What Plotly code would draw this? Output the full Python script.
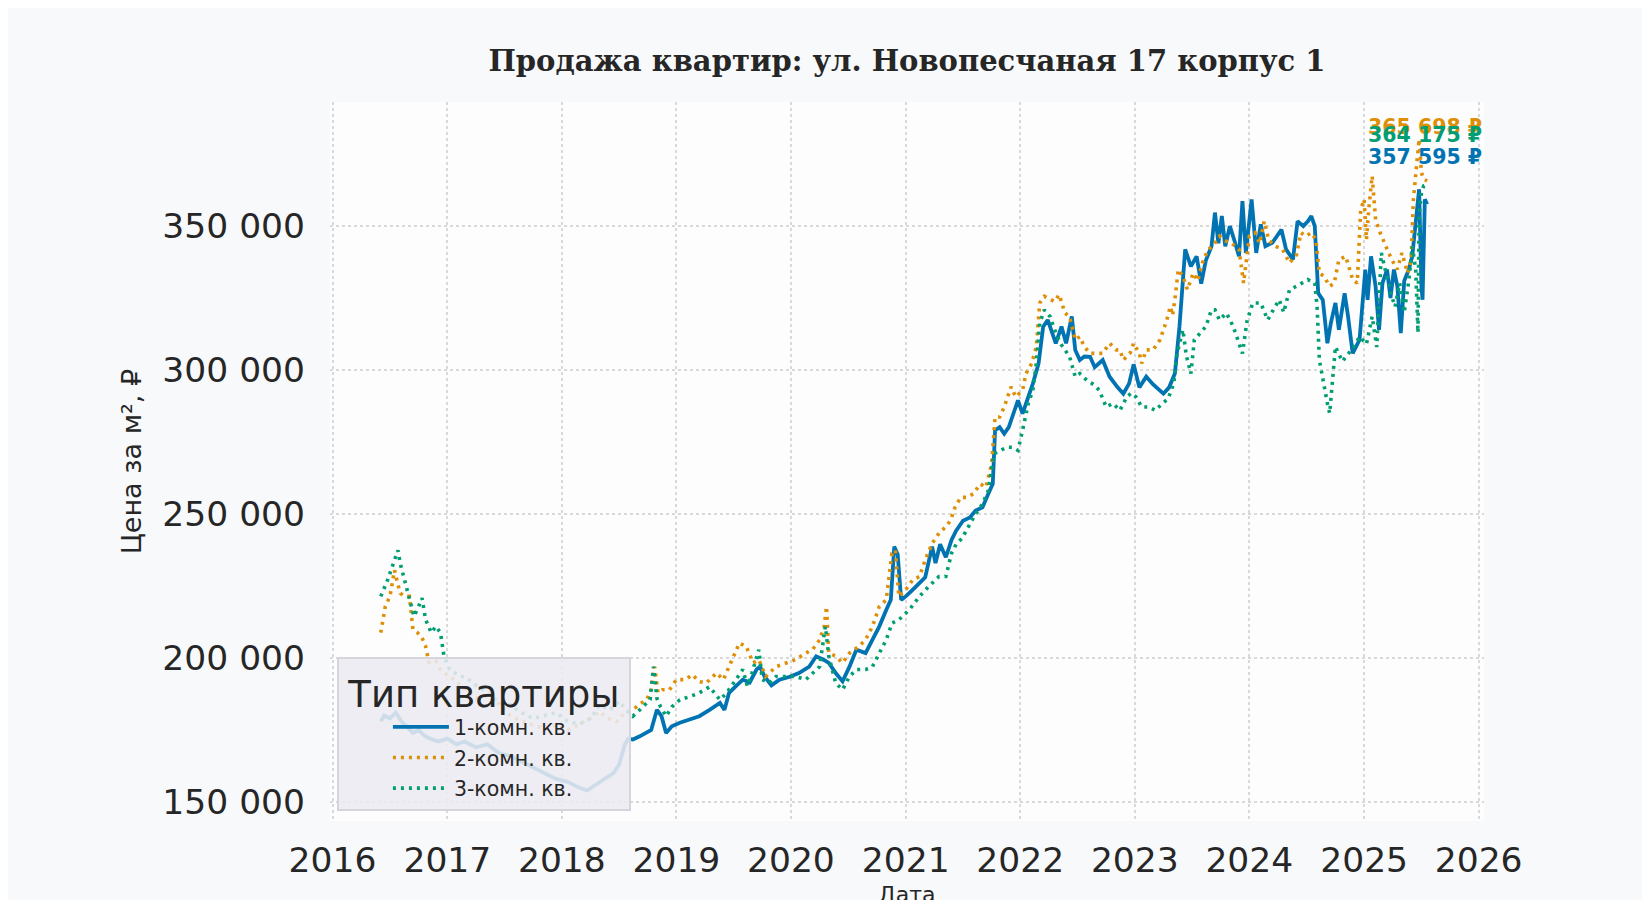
import pandas as pd
import plotly.graph_objects as go

# ---------------- data (decimal year, price in thousand RUB per m2) ----------------
t_1k = [2016.42, 2016.45, 2016.50, 2016.55, 2016.60, 2016.65, 2016.70, 2016.75, 2016.80, 2016.85,
        2016.92, 2017.00, 2017.08, 2017.15, 2017.25, 2017.35, 2017.45, 2017.55, 2017.65, 2017.75,
        2017.85, 2017.95, 2018.05, 2018.15, 2018.22, 2018.30, 2018.38, 2018.45, 2018.50, 2018.55,
        2018.58, 2018.62, 2018.68, 2018.74, 2018.78, 2018.83, 2018.87, 2018.91, 2018.96, 2019.03,
        2019.12, 2019.20, 2019.29, 2019.38, 2019.42, 2019.46, 2019.52, 2019.58, 2019.64, 2019.70,
        2019.73, 2019.77, 2019.83, 2019.90, 2019.99, 2020.07, 2020.16, 2020.22, 2020.28, 2020.33,
        2020.39, 2020.45, 2020.51, 2020.57, 2020.65, 2020.71, 2020.77, 2020.83, 2020.87, 2020.90,
        2020.93, 2020.96, 2021.00, 2021.06, 2021.12, 2021.17, 2021.23, 2021.26, 2021.30, 2021.35,
        2021.40, 2021.44, 2021.50, 2021.56, 2021.61, 2021.67, 2021.72, 2021.76, 2021.78, 2021.82,
        2021.86, 2021.90, 2021.93, 2021.98, 2022.02, 2022.07, 2022.11, 2022.16, 2022.20, 2022.24,
        2022.27, 2022.31, 2022.36, 2022.40, 2022.45, 2022.48, 2022.52, 2022.56, 2022.61, 2022.65,
        2022.72, 2022.78, 2022.85, 2022.90, 2022.95, 2022.99, 2023.04, 2023.10, 2023.16, 2023.25,
        2023.30, 2023.35, 2023.39, 2023.44, 2023.49, 2023.54, 2023.58, 2023.62, 2023.67, 2023.70,
        2023.73, 2023.76, 2023.79, 2023.83, 2023.87, 2023.91, 2023.94, 2023.97, 2024.02, 2024.06,
        2024.10, 2024.14, 2024.20, 2024.28, 2024.32, 2024.38, 2024.42, 2024.47, 2024.51, 2024.54,
        2024.57, 2024.60, 2024.64, 2024.68, 2024.71, 2024.75, 2024.78, 2024.83, 2024.86, 2024.90,
        2024.96, 2025.01, 2025.03, 2025.06, 2025.10, 2025.13, 2025.16, 2025.20, 2025.23, 2025.26,
        2025.29, 2025.32, 2025.35, 2025.39, 2025.42, 2025.44, 2025.46, 2025.48, 2025.50, 2025.51,
        2025.53, 2025.55]
v_1k = [178, 180, 179, 181, 178, 176, 174, 175, 173, 172,
        171, 172, 170, 171, 169, 170, 167, 166, 164, 162,
        160, 158, 157, 155, 154, 156, 158, 160, 163, 170,
        172, 171.7, 172.8, 174, 175, 182, 179.8, 174, 176.3, 177.5,
        178.6, 179.8, 182, 184.4, 182, 187.9, 190.2, 192.5, 191.5, 196,
        197, 193.6, 190.5, 192.5, 193.5, 194.8, 197, 200.6, 199.5, 198.3,
        194.8, 191.9, 197, 202.9, 201.7, 206.3, 211, 216.7, 220.2, 238.7,
        236, 220.2, 221.4, 223.7, 226, 228, 238.7, 233, 239.5, 235,
        241, 244.2, 247.7, 248.8, 251.2, 252.3, 257, 260.5, 279, 280.2,
        277.9, 280.2, 283.7, 289.5, 284.9, 290.7, 295.3, 302.3, 315.1, 317.4,
        314, 309.3, 315.1, 309.3, 318.6, 307, 303.5, 304.7, 304.6, 301,
        303.5, 297.7, 294, 291.8, 295.3, 302, 294, 297.7, 295, 291.8,
        294, 298.8, 315, 341.9, 336, 339.5, 330, 338, 343, 354.7,
        344, 353.5, 343, 350, 345, 339.5, 358.7, 340.7, 359.3, 340.7,
        350.6, 343, 344.2, 348.8, 341.9, 338.4, 351.7, 350, 351.7, 353.5,
        350, 326.7, 324.4, 309.3, 316.3, 323.3, 314, 326.7, 318.6, 305.8,
        310.5, 334.9, 324.4, 339.5, 329, 314, 330.2, 334.9, 325, 334.9,
        329.1, 312.8, 331, 334.9, 339.5, 347.7, 353.5, 362.8, 329.1, 324.4,
        359.3, 357.595]

t_2k = [2016.42, 2016.44, 2016.46, 2016.50, 2016.54, 2016.56, 2016.59, 2016.63, 2016.67, 2016.70,
        2016.74, 2016.78, 2016.81, 2016.84, 2016.90, 2016.94, 2017.00, 2017.08, 2017.15, 2017.25,
        2017.35, 2017.45, 2017.55, 2017.65, 2017.75, 2017.85, 2017.95, 2018.05, 2018.15, 2018.25,
        2018.33, 2018.40, 2018.48, 2018.55, 2018.62, 2018.68, 2018.74, 2018.78, 2018.81, 2018.84,
        2018.88, 2018.94, 2019.00, 2019.08, 2019.14, 2019.20, 2019.26, 2019.35, 2019.41, 2019.49,
        2019.55, 2019.61, 2019.67, 2019.72, 2019.78, 2019.87, 2019.96, 2020.04, 2020.13, 2020.19,
        2020.25, 2020.29, 2020.31, 2020.33, 2020.39, 2020.45, 2020.51, 2020.59, 2020.65, 2020.71,
        2020.77, 2020.83, 2020.88, 2020.91, 2020.94, 2021.00, 2021.06, 2021.12, 2021.17, 2021.23,
        2021.29, 2021.35, 2021.39, 2021.43, 2021.48, 2021.53, 2021.59, 2021.65, 2021.70, 2021.75,
        2021.78, 2021.82, 2021.86, 2021.92, 2021.96, 2022.02, 2022.05, 2022.10, 2022.14, 2022.17,
        2022.21, 2022.26, 2022.30, 2022.34, 2022.39, 2022.43, 2022.48, 2022.52, 2022.56, 2022.61,
        2022.67, 2022.72, 2022.78, 2022.84, 2022.87, 2022.90, 2022.96, 2022.99, 2023.04, 2023.06,
        2023.10, 2023.16, 2023.22, 2023.28, 2023.31, 2023.33, 2023.35, 2023.38, 2023.42, 2023.46,
        2023.51, 2023.55, 2023.59, 2023.64, 2023.68, 2023.74, 2023.78, 2023.84, 2023.91, 2023.95,
        2024.00, 2024.05, 2024.09, 2024.13, 2024.17, 2024.23, 2024.29, 2024.35, 2024.41, 2024.45,
        2024.49, 2024.54, 2024.58, 2024.61, 2024.65, 2024.70, 2024.74, 2024.78, 2024.84, 2024.90,
        2024.94, 2024.97, 2025.00, 2025.02, 2025.04, 2025.07, 2025.10, 2025.14, 2025.19, 2025.24,
        2025.29, 2025.33, 2025.38, 2025.41, 2025.43, 2025.46, 2025.48, 2025.50, 2025.52, 2025.55]
v_2k = [208.8, 213.4, 218, 221.4, 230.5, 227, 222.5, 221.4, 221.4, 210,
        208.8, 207, 204.2, 198.5, 199, 196, 194, 192, 189, 186,
        187, 184, 180, 178, 176.8, 175.5, 176.8, 175, 177, 179,
        181.4, 179, 178, 181, 182, 184, 185.5, 189, 197, 187.9,
        189, 189, 192.5, 192.5, 194.2, 191.8, 191.3, 194.8, 192.5, 199.4,
        205.2, 204, 198.3, 199.4, 193.6, 197, 198.3, 199.4, 201.7, 203,
        206.3, 211, 217.9, 201.7, 200.6, 198.3, 201.7, 204, 206.3, 211,
        217.9, 220.2, 236.4, 237.5, 221.4, 223.7, 227.1, 228.3, 234.1, 239.8,
        243.3, 245.6, 247.7, 252.3, 255.8, 255.8, 257, 260.5, 259.3, 267.4,
        283.7, 283.7, 287.2, 294.2, 290.7, 293, 298.8, 302.3, 308.1, 323.3,
        325.6, 324.4, 323.8, 326.2, 319.8, 318.6, 310.5, 311.6, 308.1, 305.8,
        305.8, 305.8, 309.3, 307, 307, 303.5, 306, 309.3, 305.8, 302.3,
        307, 307, 310.5, 317.4, 322.1, 319, 324.4, 334.9, 332.6, 327.9,
        333.7, 331, 337.2, 341.9, 343, 346.5, 345, 344.2, 342, 330.2,
        346.5, 347.7, 344, 351.7, 345, 343, 341.9, 337.2, 340, 347.7,
        346.5, 347.7, 345.3, 333.7, 332.6, 329.1, 330.2, 338.4, 339.5, 331.4,
        330.2, 355.8, 359.3, 345.3, 355.8, 367.4, 352.3, 347.7, 343, 338.4,
        335, 340.7, 333.7, 338, 359.3, 370.9, 380.2, 368.6, 366.3, 365.698]

t_3k = [2016.42, 2016.48, 2016.54, 2016.57, 2016.59, 2016.63, 2016.68, 2016.71, 2016.75, 2016.78,
        2016.81, 2016.86, 2016.90, 2016.94, 2016.97, 2017.02, 2017.10, 2017.17, 2017.25, 2017.35,
        2017.45, 2017.55, 2017.65, 2017.75, 2017.85, 2017.95, 2018.05, 2018.15, 2018.25, 2018.33,
        2018.42, 2018.50, 2018.56, 2018.62, 2018.68, 2018.77, 2018.80, 2018.83, 2018.86, 2018.91,
        2018.96, 2019.03, 2019.11, 2019.20, 2019.29, 2019.38, 2019.44, 2019.52, 2019.58, 2019.62,
        2019.66, 2019.72, 2019.75, 2019.81, 2019.87, 2019.96, 2020.04, 2020.13, 2020.19, 2020.25,
        2020.30, 2020.33, 2020.39, 2020.45, 2020.51, 2020.57, 2020.65, 2020.71, 2020.77, 2020.83,
        2020.88, 2020.94, 2021.03, 2021.12, 2021.20, 2021.29, 2021.35, 2021.40, 2021.44, 2021.49,
        2021.56, 2021.61, 2021.67, 2021.72, 2021.77, 2021.82, 2021.88, 2021.93, 2021.98, 2022.02,
        2022.07, 2022.11, 2022.14, 2022.17, 2022.21, 2022.26, 2022.30, 2022.35, 2022.39, 2022.43,
        2022.48, 2022.52, 2022.58, 2022.64, 2022.69, 2022.75, 2022.81, 2022.87, 2022.93, 2022.97,
        2023.01, 2023.06, 2023.12, 2023.18, 2023.24, 2023.29, 2023.34, 2023.37, 2023.42, 2023.45,
        2023.49, 2023.52, 2023.57, 2023.62, 2023.67, 2023.70, 2023.74, 2023.80, 2023.86, 2023.90,
        2023.94, 2023.98, 2024.03, 2024.10, 2024.16, 2024.21, 2024.26, 2024.30, 2024.35, 2024.41,
        2024.46, 2024.51, 2024.57, 2024.59, 2024.61, 2024.65, 2024.68, 2024.70, 2024.73, 2024.75,
        2024.81, 2024.86, 2024.91, 2024.96, 2025.02, 2025.07, 2025.11, 2025.15, 2025.19, 2025.23,
        2025.27, 2025.31, 2025.35, 2025.39, 2025.42, 2025.45, 2025.47, 2025.48, 2025.50, 2025.52,
        2025.55]
v_3k = [221.4, 227.1, 234, 237.4, 232.8, 227, 220, 214.5, 218, 220.8,
        213.4, 208.8, 211, 208.8, 200.8, 196, 194, 193, 190.5, 188,
        184.5, 183.7, 181, 179, 180, 181, 178, 177, 179, 183.7,
        182, 185, 182, 179.8, 182, 185.5, 197, 186, 183.2, 179.8,
        183, 185.5, 186.5, 187.9, 190, 185.5, 187.9, 192.5, 196, 190.2,
        194.8, 202.9, 192.5, 191.3, 193.6, 193.6, 193.6, 192.5, 194.8, 197,
        211, 200.6, 191.3, 189, 193.6, 196, 196, 197, 201.7, 206.3,
        212.1, 213.3, 216.7, 221.4, 224.8, 228.3, 228.3, 236.4, 239.5, 241.5,
        246.5, 250, 253.5, 258.1, 270.9, 272.1, 273.2, 273.2, 272.1, 279.1,
        288.4, 293, 302.3, 316.3, 320.9, 318.6, 314, 309.3, 307, 304.7,
        297.7, 298.8, 296.5, 295, 293, 287.2, 288.4, 286, 290.7, 292,
        290.7, 287.2, 287.2, 286, 288.4, 290, 295.3, 305.8, 314, 305,
        298.8, 310.5, 312.8, 315.1, 320.9, 320.9, 317.4, 319.8, 315.1, 310.5,
        305.8, 317, 323.3, 323.3, 317.4, 321, 324.4, 320, 327.9, 329.1,
        330.2, 331.4, 330.2, 322.1, 303.5, 294.2, 288.4, 285, 297, 308.1,
        303, 305.8, 308.1, 311.6, 309, 318.6, 308, 340.7, 333.7, 327,
        322, 330.2, 320, 331, 343, 335, 313, 353.5, 361.6, 364,
        364.175]

series_names = ["1-комн. кв.", "2-комн. кв.", "3-комн. кв."]
last_labels = ["357 595 ₽", "365 698 ₽", "364 175 ₽"]
y_tick_vals = [150000, 200000, 250000, 300000, 350000]
y_tick_text = ["150 000", "200 000", "250 000", "300 000", "350 000"]
x_tick_years = [2016, 2017, 2018, 2019, 2020, 2021, 2022, 2023, 2024, 2025, 2026]

title_text = "Продажа квартир: ул. Новопесчаная 17 корпус 1"
legend_title = "Тип квартиры"
x_title = "Дата"
y_title = "Цена за м², ₽"

# ---------------- helpers ----------------
def to_dates(years):
    out = []
    for y in years:
        yr = int(y)
        start = pd.Timestamp(year=yr, month=1, day=1)
        end = pd.Timestamp(year=yr + 1, month=1, day=1)
        out.append(start + (end - start) * (y - yr))
    return out

def to_rub(vals):
    return [v * 1000 for v in vals]

colors = ["#0173b2", "#de8f05", "#029e73"]
SANS = "DejaVu Sans, Arial, sans-serif"
TXT = "#262626"

W, H = 1634, 900

fig = go.Figure()
series = [(t_1k, v_1k), (t_2k, v_2k), (t_3k, v_3k)]
dashes = ["solid", "3px,5px", "3px,5px"]
widths = [3.8, 3.6, 3.6]
for k, ((t, v), name, c, d, w) in enumerate(zip(series, series_names, colors, dashes, widths)):
    fig.add_trace(go.Scatter(
        x=to_dates(t), y=to_rub(v), mode="lines", name=name,
        legendgroup=f"g{k}",
        line=dict(color=c, width=w, dash=d),
    ))

# end labels (orange, green, blue drawing order)
order = [1, 2, 0]
yshifts = {0: 47, 1: 54, 2: 50}
for i in order:
    t, v = series[i]
    fig.add_annotation(
        x=to_dates([t[-1]])[0], y=v[-1] * 1000, text="<b>" + last_labels[i] + "</b>",
        showarrow=False, yshift=yshifts[i], xshift=-2,
        font=dict(family=SANS, size=20.5, color=colors[i]),
    )

grid = dict(showgrid=True, gridcolor="#d9d9d9", gridwidth=2, griddash="dot")

fig.update_layout(
    width=W, height=H,
    paper_bgcolor="#f8f9fb", plot_bgcolor="#fdfdfd",
    margin=dict(l=322, r=158, t=94, b=87, autoexpand=False),
    title=dict(text="<b>" + title_text + "</b>", x=0.5, xref="paper", y=1 - 53 / H,
               yanchor="middle", xanchor="center",
               font=dict(family="DejaVu Serif, serif", size=29, color=TXT)),
    font=dict(family=SANS, color=TXT),
    showlegend=True,
    legend=dict(
        title=dict(text="\u2009" + legend_title + "\u2009",
                   font=dict(family=SANS, size=37, color=TXT)),
        font=dict(family=SANS, size=20.5, color=TXT),
        x=0.006, y=0.014, xanchor="left", yanchor="bottom",
        bgcolor="rgba(234,235,241,0.88)", bordercolor="#d4d6dc", borderwidth=2,
        itemwidth=56, tracegroupgap=1, indentation=49,
    ),
    xaxis=dict(
        type="date", automargin=False,
        range=[pd.Timestamp("2015-12-24"), pd.Timestamp("2026-01-18")],
        tickvals=[pd.Timestamp(year=y, month=1, day=1) for y in x_tick_years],
        ticktext=[str(y) for y in x_tick_years],
        tickfont=dict(family=SANS, size=34.5, color=TXT),
        ticks="", ticklabelstandoff=15,
        title=dict(text=x_title, font=dict(family=SANS, size=22, color=TXT), standoff=8),
        zeroline=False, showline=False, **grid,
    ),
    yaxis=dict(
        automargin=False,
        range=[143400, 393100],
        tickvals=y_tick_vals, ticktext=y_tick_text,
        tickfont=dict(family=SANS, size=34.5, color=TXT),
        ticks="", ticklabelstandoff=24,
        title=dict(text=y_title, font=dict(family=SANS, size=27, color=TXT), standoff=12),
        zeroline=False, showline=False, **grid,
    ),
)

fig.write_html("out.html")
